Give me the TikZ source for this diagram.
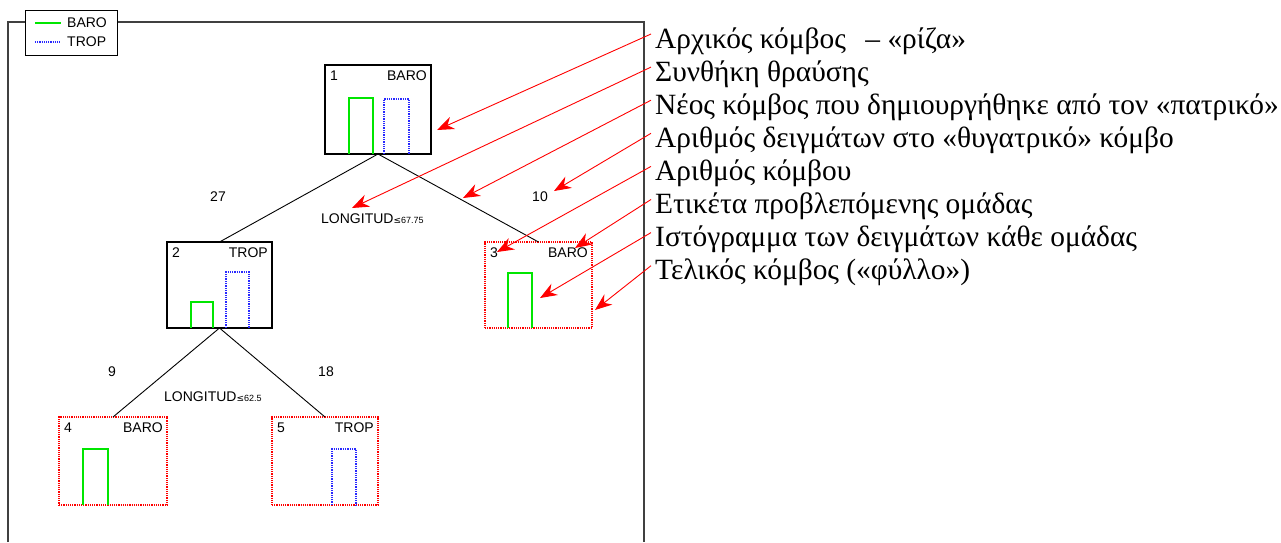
\documentclass[tikz,border=0pt]{standalone}
\usepackage{fontspec}
\setmainfont{Liberation Serif}
\newfontfamily\pixfont{Liberation Sans}
\newfontfamily\symfont{DejaVu Sans}
\usepackage{xcolor}
\usetikzlibrary{arrows.meta,positioning}

\definecolor{barogreen}{RGB}{0,230,0}
\definecolor{tropblue}{RGB}{40,40,255}

\tikzset{
  lbl/.style={font=\pixfont\fontsize{14}{14}\selectfont, inner sep=0pt},
  treebox/.style={draw, line width=1.1pt, inner sep=0pt, outer sep=0pt},
  leafbox/.style={draw=red, densely dotted, line width=1.2pt, inner sep=0pt, outer sep=0pt},
  branch/.style={black, line width=0.9pt},
  barobar/.style={barogreen, line width=1.3pt},
  tropbar/.style={tropblue, densely dotted, line width=1.3pt},
  pointer/.style={red, line width=0.9pt, -{Stealth[length=17pt,width=13pt]}},
  caption/.style={font=\fontsize{29.4}{33}\selectfont, inner sep=0pt, anchor=base west}
}

% one histogram bar: #1 style, #2 left x, #3 right x, #4 top y, #5 base y
\newcommand{\histbar}[5]{\draw[#1] (#2,#5) -- (#2,#4) -- (#3,#4) -- (#3,#5);}

\begin{document}
\begin{tikzpicture}[x=1pt,y=-1pt]
    \useasboundingbox (0,0) rectangle (1281,542);

    % legend and outer frame
    \node[draw, line width=1pt, minimum width=92pt, minimum height=45pt] (legend) at (71,33) {};
    \draw[barogreen, line width=1.2pt] (35,23) -- (61,23);
    \draw[tropblue, densely dotted, line width=1.2pt] (35,42) -- (61,42);
    \node[lbl, anchor=west] (lbaro) at (67,23) {BARO};
    \node[lbl, anchor=west] (ltrop) at (67,42) {TROP};
    \coordinate (ftl) at (8,22);
    \coordinate (ftr) at (644,22);
    \draw[black!75, line width=1.6pt] (8,542) -- (ftl) -- (ftl -| legend.west);
    \draw[black!75, line width=1.6pt] (ftl -| legend.east) -- (ftr) -- (644,542);

    % tree nodes
    \node[treebox, minimum width=106pt, minimum height=89pt] (n1) at (378,109.5) {};
    \node[treebox, minimum width=105pt, minimum height=86pt] (n2) at (219.5,285) {};
    \node[leafbox, minimum width=107pt, minimum height=86pt] (n3) at (538.5,285) {};
    \node[leafbox, minimum width=108pt, minimum height=88pt] (n4) at (113,461) {};
    \node[leafbox, minimum width=106pt, minimum height=88pt] (n5) at (325,461) {};

    % node number and predicted class
    \foreach \n/\c in {1/BARO, 2/TROP, 3/BARO, 4/BARO, 5/TROP}
    {
        \node[lbl, anchor=north west] (num\n) at ([shift={(5,6)}]n\n.north west) {\n};
        \node[lbl, anchor=north east] (cls\n) at ([shift={(-4,6)}]n\n.north east) {\c};
    }

    % histograms
    \histbar{barobar}{349}{373}{98}{154}
    \histbar{tropbar}{384}{409}{99}{154}
    \histbar{barobar}{191}{213}{302}{328}
    \histbar{tropbar}{226}{249}{272}{328}
    \histbar{barobar}{508}{532}{273}{328}
    \histbar{barobar}{83}{108}{449}{505}
    \histbar{tropbar}{332}{356}{449}{505}

    % branches
    \draw[branch] (n1.south) -- (n2.north);
    \draw[branch] (n1.south) -- (n3.north);
    \draw[branch] (n2.south) -- (n4.north);
    \draw[branch] (n2.south) -- (n5.north);

    % counts and split rules
    \node[lbl] (cnt2) at (218,197) {27};
    \node[lbl] (cnt3) at (540,197) {10};
    \node[lbl] (cnt4) at (112,372) {9};
    \node[lbl] (cnt5) at (326,372) {18};
    \node[lbl, anchor=west] (split1) at (321,219) {LONGITUD{\fontsize{9}{9}\selectfont\symfont ≤\pixfont 67.75}};
    \node[lbl, anchor=west] (split2) at (164,397) {LONGITUD{\fontsize{9}{9}\selectfont\symfont ≤\pixfont 62.5}};

    % explanations
    \foreach \t [count=\i] in {{Αρχικός κόμβος \ \,– «ρίζα»},
                               {Συνθήκη θραύσης},
                               {Νέος κόμβος που δημιουργήθηκε από τον «πατρικό»},
                               {Αριθμός δειγμάτων στο «θυγατρικό» κόμβο},
                               {Αριθμός κόμβου},
                               {Ετικέτα προβλεπόμενης ομάδας},
                               {Ιστόγραμμα των δειγμάτων κάθε ομάδας},
                               {Τελικός κόμβος («φύλλο»)}}
    {
        \node[caption] (t\i) at (655,{48+33.1*(\i-1)}) {\t};
    }

    % arrow tips
    \coordinate (p1) at (437,130);
    \coordinate (p2) at (352,208);
    \coordinate (p3) at (463,198);
    \coordinate (p4) at (554,191);
    \coordinate (p5) at (497,252);
    \coordinate (p6) at (575,248);
    \coordinate (p7) at (540,298);
    \coordinate (p8) at (595,310);
    \foreach \i in {1,...,8}
        \draw[pointer] ([shift={(-4,-14)}]t\i.base west) -- (p\i);
\end{tikzpicture}
\end{document}
